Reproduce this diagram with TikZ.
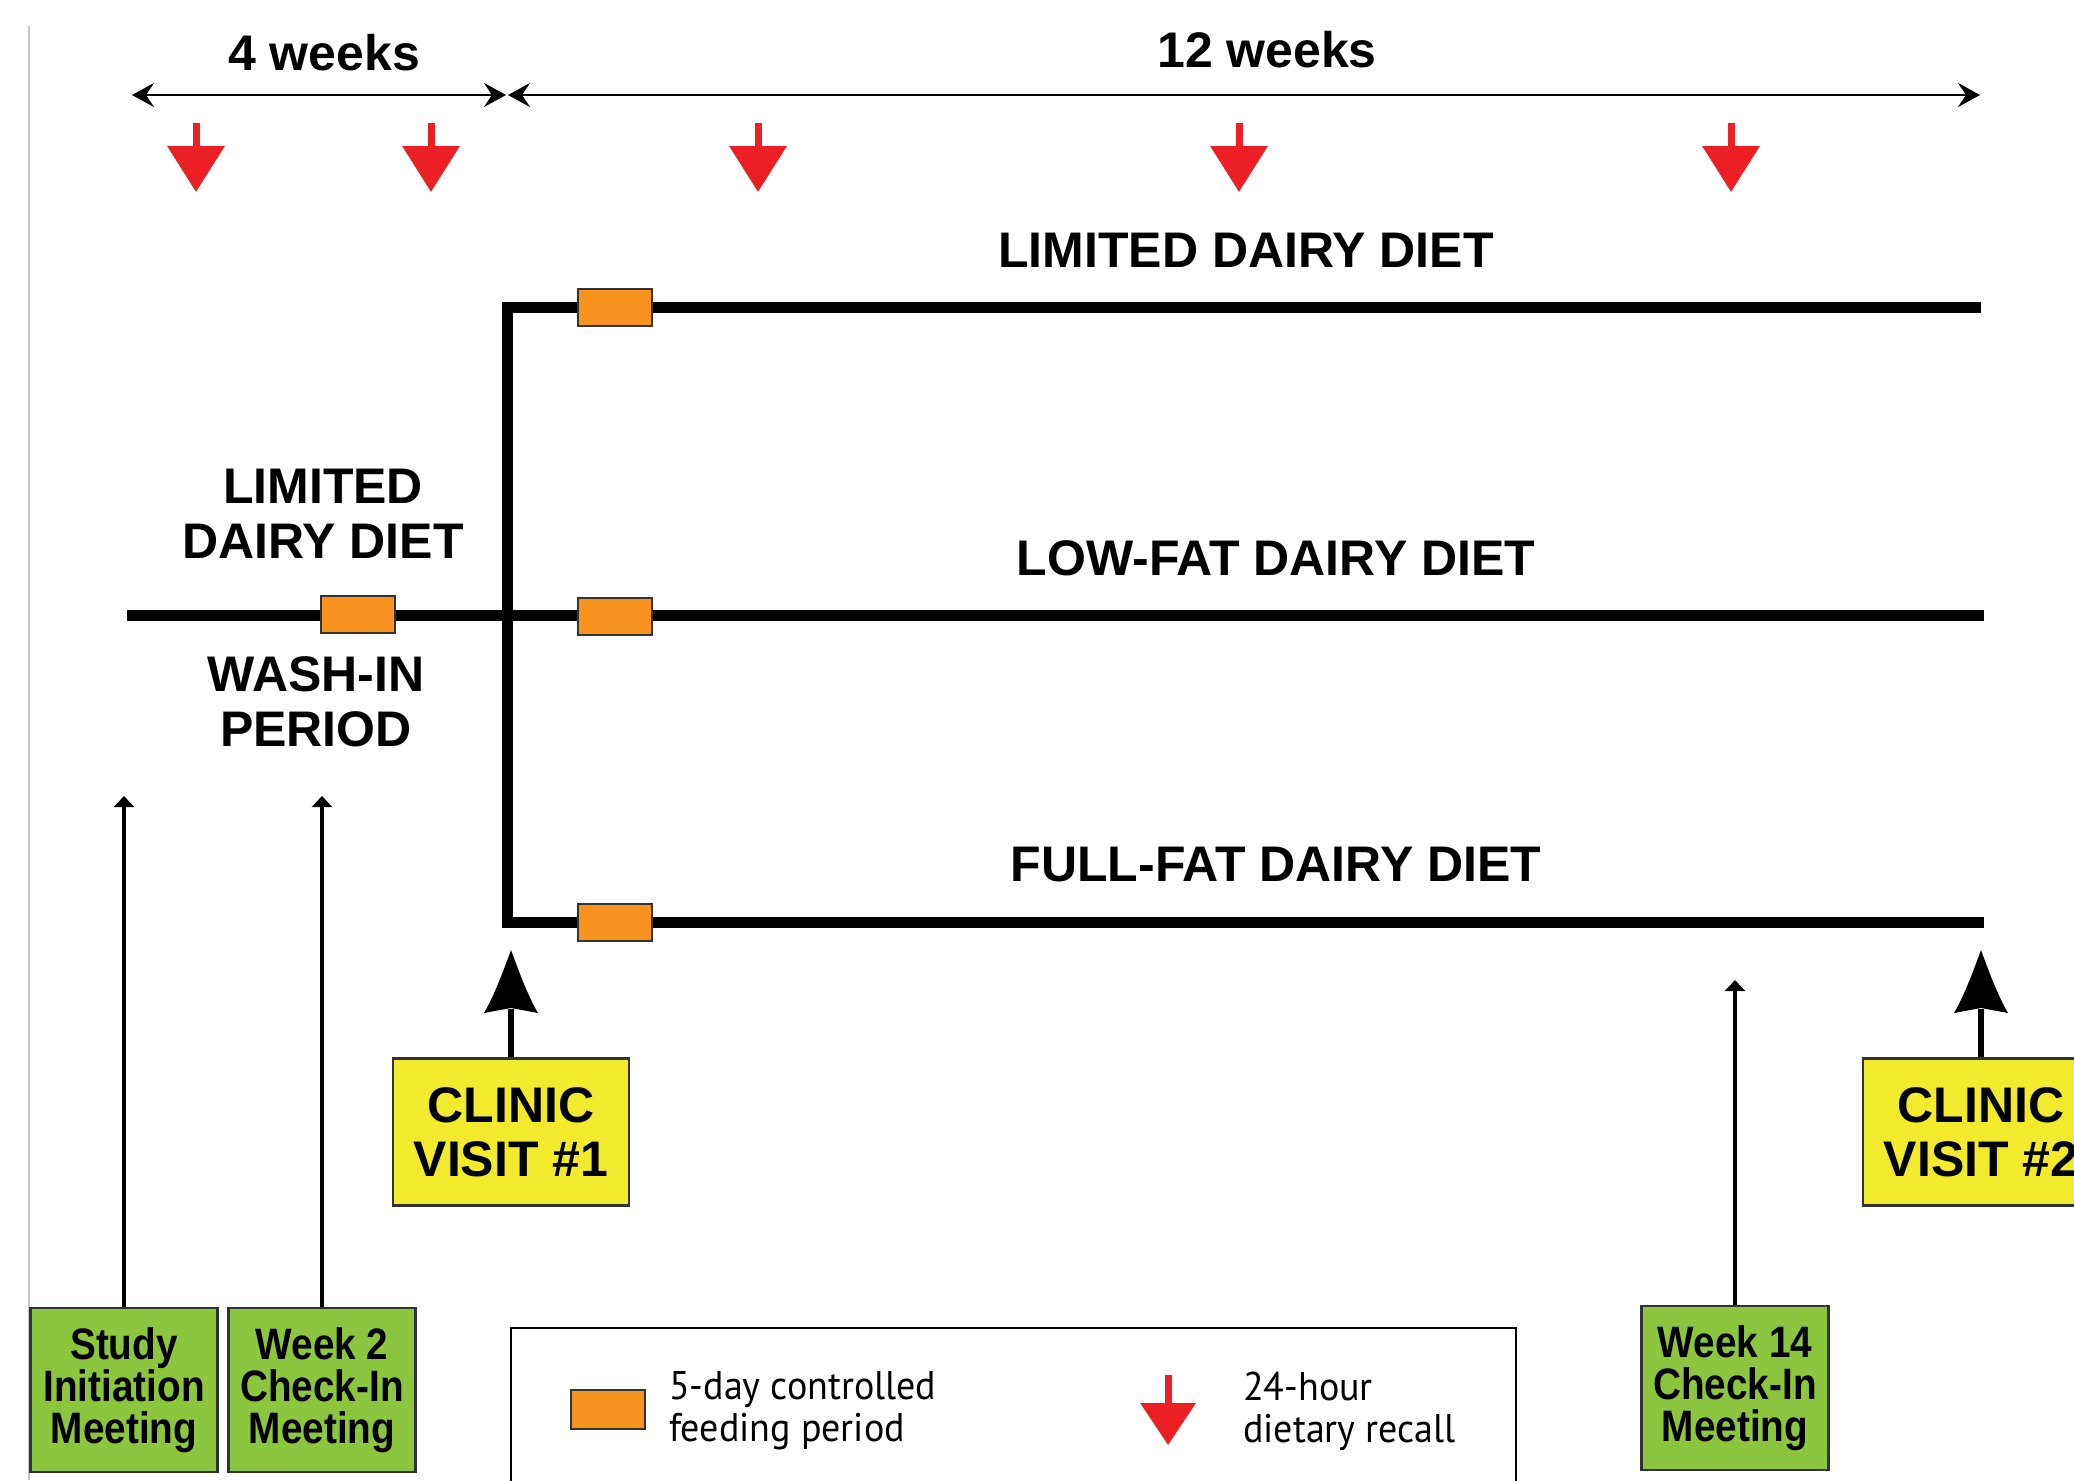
\documentclass[tikz,border=0pt]{standalone}
\usepackage{fontspec}
\setmainfont{Liberation Sans}
\newfontfamily\condsans[FakeStretch=0.88]{Liberation Sans}
\newfontfamily\legendfont[FakeStretch=0.95]{PT Sans}
\usetikzlibrary{arrows.meta}

\definecolor{dorange}{HTML}{F7931E}
\definecolor{dred}{HTML}{EC2024}
\definecolor{dgreen}{HTML}{8CC63F}
\definecolor{dyellow}{HTML}{F2EA2D}
\definecolor{dgray}{HTML}{C8C8C8}
\definecolor{dborder}{HTML}{333333}

% concave arrowhead for the clinic visits (tip at y=950)
\newcommand\clinichead[1]{%
  \fill (#1,950) .. controls (#1+8,972) and (#1+17,996) .. (#1+27,1013)
    -- (#1,1008) -- (#1-27,1013)
    .. controls (#1-17,996) and (#1-8,972) .. (#1,950) -- cycle;}

\begin{document}
\begin{tikzpicture}[x=1pt,y=-1pt,
  bigtext/.style={font=\bfseries\fontsize{50}{55}\selectfont, align=center, inner sep=0pt},
  feedbox/.style={draw=dborder, line width=2pt, fill=dorange, minimum width=74pt, minimum height=37pt, inner sep=0pt},
  meetbox/.style={draw=dborder, line width=2.5pt, fill=dgreen, minimum width=187pt, minimum height=164pt, inner sep=0pt, align=center, font=\condsans\bfseries\fontsize{44}{42}\selectfont},
  clinicbox/.style={draw=dborder, line width=2.5pt, fill=dyellow, minimum width=236pt, minimum height=147pt, inner sep=0pt, align=center, font=\bfseries\fontsize{50}{54}\selectfont},
  dietline/.style={line width=11pt},
  recall/.style={dred, line width=7pt, -{Triangle[width=56pt,length=46pt]}},
  meetarrow/.style={line width=4pt, -{Triangle[width=20pt,length=11pt]}},
  clinicstem/.style={line width=6pt},
  spanarrow/.style={line width=2pt, {Stealth[length=22pt,width=24pt,inset=8pt]}-{Stealth[length=22pt,width=24pt,inset=8pt]}},
  legendtext/.style={font=\legendfont\fontsize{40}{42}\selectfont, align=left, anchor=west, inner sep=0pt}
]
\useasboundingbox (0,0) rectangle (2074,1480);
\clip (0,0) rectangle (2074,1480);
\fill[white] (0,0) rectangle (2074,1480);

% faint left rule
\draw[dgray, line width=1.5pt] (29,26) -- (29,1480);

% time spans
\coordinate (s0) at (132,95);
\coordinate (s1a) at (506,95);
\coordinate (s1b) at (508,95);
\coordinate (s2) at (1980,95);
\draw[spanarrow] (s0) -- (s1a);
\draw[spanarrow] (s1b) -- (s2);
\node[bigtext] (w4) at (324,53) {4 weeks};
\node[bigtext] (w12) at (1267,50) {12 weeks};

% 24-hour recalls
\foreach \x in {196,431,758,1239,1731}
  \draw[recall] (\x,123) -- (\x,192);

% diet lines
\coordinate (wstart) at (127,615);
\coordinate (ltop) at (507,307);
\coordinate (lbot) at (507,922);
\coordinate (e1) at (1981,307);
\coordinate (e2) at (1984,615);
\coordinate (e3) at (1984,922);
\draw[dietline] (e1) -- (ltop) -- (lbot) -- (e3);
\draw[dietline] (wstart) -- (e2);

\node[feedbox] (fw) at (358,614) {};
\node[feedbox] (f1) at (615,307) {};
\node[feedbox] (f2) at (615,616) {};
\node[feedbox] (f3) at (615,922) {};

\node[bigtext] (lbl1) at (1246,250) {LIMITED DAIRY DIET};
\node[bigtext] (lbl2) at (1276,558) {LOW-FAT DAIRY DIET};
\node[bigtext] (lbl3) at (1276,865) {FULL-FAT DAIRY DIET};
\node[bigtext] (lblw) at (323,514) {LIMITED\\DAIRY DIET};
\node[bigtext] (lblp) at (316,702) {WASH-IN\\PERIOD};

% meetings
\node[meetbox] (m1) at (124,1390) {Study\\Initiation\\Meeting};
\node[meetbox] (m2) at (322,1390) {Week 2\\Check-In\\Meeting};
\node[meetbox] (m3) at (1735,1388) {Week 14\\Check-In\\Meeting};
\coordinate (t1) at (124,796);
\coordinate (t2) at (322,796);
\coordinate (t3) at (1735,980);
\draw[meetarrow] (m1.north) -- (t1);
\draw[meetarrow] (m2.north) -- (t2);
\draw[meetarrow] (m3.north) -- (t3);

% clinic visits
\node[clinicbox] (c1) at (511,1132) {CLINIC\\VISIT \#1};
\node[clinicbox] (c2) at (1981,1132) {CLINIC\\VISIT \#2};
\coordinate (ct1) at (511,1009);
\coordinate (ct2) at (1981,1009);
\draw[clinicstem] (c1.north) -- (ct1);
\draw[clinicstem] (c2.north) -- (ct2);
\clinichead{511}
\clinichead{1981}

% legend
\draw[line width=2.5pt] (511,1328) rectangle (1516,1530);
\node[feedbox, minimum height=39pt] (lgf) at (608,1409) {};
\node[legendtext] (lgft) at (669,1411) {5-day controlled\\feeding period};
\coordinate (lr1) at (1168,1375);
\coordinate (lr2) at (1168,1445);
\draw[recall, -{Triangle[width=54pt,length=42pt]}] (lr1) -- (lr2);
\node[legendtext] (lgrt) at (1243,1411) {24-hour\\dietary recall};
\end{tikzpicture}
\end{document}
